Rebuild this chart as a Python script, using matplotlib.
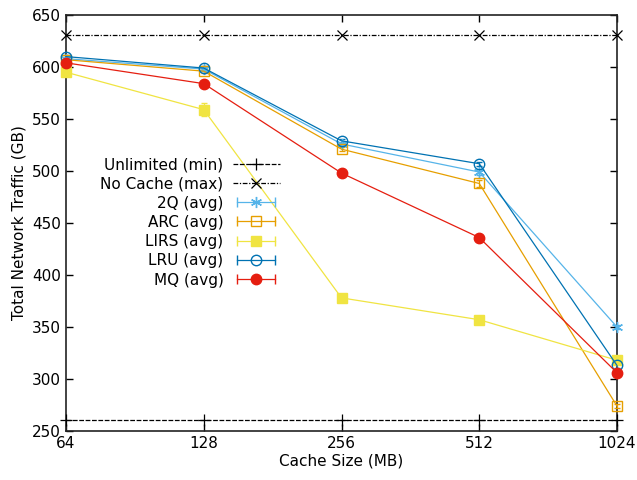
import matplotlib
matplotlib.use('Agg')
import matplotlib.pyplot as plt
from matplotlib.lines import Line2D
from matplotlib.legend_handler import HandlerLine2D, HandlerTuple

# --- data ---
sizes = [64, 128, 256, 512, 1024]
unlimited = [261, 261, 261, 261, 261]
no_cache = [631, 631, 631, 631, 631]

q2 = [608, 598, 526, 499, 350]
arc = [607, 596, 521, 488, 274]
lirs = [595, 559, 378, 357, 318]
lru = [610, 599, 529, 507, 313]
mq = [604, 584, 498, 436, 306]

q2_err = [2, 2, 2, 3, 2]
arc_err = [2, 2, 2, 3, 2]
lirs_err = [3, 6, 2, 2, 2]
lru_err = [2, 2, 2, 2, 2]
mq_err = [2, 2, 2, 2, 2]

plt.rcParams['font.family'] = 'DejaVu Sans'
plt.rcParams['font.size'] = 11

fig = plt.figure(figsize=(6.37, 4.8), dpi=100)
ax = fig.add_axes([66/637, 1-431/480, (617-66)/637, (431-15)/480])

dash_min = (0, (3.8, 1.3))
dash_max = (0, (3.8, 1.3, 1, 1.3))

ax.plot(sizes, unlimited, color='black', lw=0.9, ls=dash_min,
        marker='+', ms=8, mew=0.9, clip_on=False, zorder=3)
ax.plot(sizes, no_cache, color='black', lw=0.9, ls=dash_max,
        marker='x', ms=7, mew=0.9, clip_on=False, zorder=3)

series = [
    ('2Q (avg)', q2, q2_err, '#56b4e9', '*', 'none'),
    ('ARC (avg)', arc, arc_err, '#e69f00', 's', 'none'),
    ('LIRS (avg)', lirs, lirs_err, '#f0e442', 's', 'fill'),
    ('LRU (avg)', lru, lru_err, '#0072b2', 'o', 'none'),
    ('MQ (avg)', mq, mq_err, '#e51e10', 'o', 'fill'),
]

handles = []
labels = ['Unlimited (min)', 'No Cache (max)']
hmap = {tuple: HandlerTuple(ndivide=1)}

handles.append(Line2D([], [], color='black', lw=0.9, ls=dash_min, marker='+', ms=8, mew=0.9))
handles.append(Line2D([], [], color='black', lw=0.9, ls=dash_max, marker='x', ms=7, mew=0.9))

for name, vals, err, col, mk, fill in series:
    ms = 8 if mk == '*' else 7.5
    mfc = col if fill == 'fill' else 'none'
    if mk == '*':
        mk = (6, 2, 0)
    ax.errorbar(sizes, vals, yerr=err, color=col, lw=0.9, marker=mk, ms=ms,
                mfc=mfc, mec=col, mew=1, capsize=2.5, elinewidth=0.9,
                clip_on=False, zorder=4)
    capline = Line2D([], [], color=col, lw=0.9, marker='|', ms=7, mew=1)
    mkline = Line2D([], [], color=col, ls='none', marker=mk, ms=ms,
                    mfc=mfc, mec=col, mew=1)
    hmap[capline] = HandlerLine2D(numpoints=2)
    hmap[mkline] = HandlerLine2D(numpoints=1)
    handles.append((capline, mkline))
    labels.append(name)

ax.set_xscale('log', base=2)
ax.set_xlim(64, 1024)
ax.set_ylim(250, 650)
ax.set_xticks(sizes)
ax.set_xticklabels([str(s) for s in sizes])
ax.minorticks_off()
ax.set_yticks(range(250, 651, 50))
ax.tick_params(direction='in', top=True, right=True, length=5, width=1, colors='black')

for s in ax.spines.values():
    s.set_linewidth(1.2)
    s.set_color('#222222')

ax.set_xlabel('Cache Size (MB)', labelpad=2)
ax.set_ylabel('Total Network Traffic (GB)', labelpad=4)

ax.legend(handles, labels, handler_map=hmap, markerfirst=False, frameon=False,
          loc='upper right', bbox_to_anchor=(280/637, 1-157/480),
          bbox_transform=fig.transFigure, borderpad=0, borderaxespad=0,
          handlelength=3.1, handletextpad=0.6, labelspacing=0.28, fontsize=11)

fig.savefig('out.png', dpi=100)
